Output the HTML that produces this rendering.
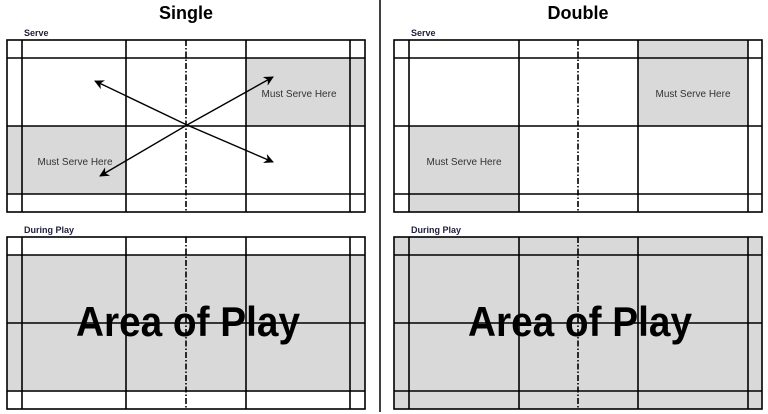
<!DOCTYPE html>
<html><head><meta charset="utf-8"><style>
html,body{margin:0;padding:0;background:#fff;}
svg{display:block;}
text{font-family:"Liberation Sans",sans-serif;}
</style></head><body>
<svg width="768" height="414" viewBox="0 0 768 414" xmlns="http://www.w3.org/2000/svg">
<defs>
<marker id="ah" viewBox="0 0 10 10" refX="9" refY="5" markerWidth="7" markerHeight="7" orient="auto"><path d="M0,0 L10,5 L0,10 L3,5 z" fill="#000"/></marker>
<g id="L" fill="none" stroke="#000" stroke-width="1.6">
<rect x="7" y="0" width="358" height="172"/>
<line x1="22" y1="0" x2="22" y2="172"/>
<line x1="350" y1="0" x2="350" y2="172"/>
<line x1="126" y1="0" x2="126" y2="172"/>
<line x1="246" y1="0" x2="246" y2="172"/>
<line x1="7" y1="18" x2="365" y2="18"/>
<line x1="7" y1="86" x2="365" y2="86"/>
<line x1="7" y1="154" x2="365" y2="154"/>
<line x1="186" y1="0" x2="186" y2="172" stroke-dasharray="6,2,1.5,2"/>
</g>
<g id="R" fill="none" stroke="#000" stroke-width="1.6">
<rect x="394" y="0" width="368" height="172"/>
<line x1="409" y1="0" x2="409" y2="172"/>
<line x1="748" y1="0" x2="748" y2="172"/>
<line x1="519" y1="0" x2="519" y2="172"/>
<line x1="638" y1="0" x2="638" y2="172"/>
<line x1="394" y1="18" x2="762" y2="18"/>
<line x1="394" y1="86" x2="762" y2="86"/>
<line x1="394" y1="154" x2="762" y2="154"/>
<line x1="578" y1="0" x2="578" y2="172" stroke-dasharray="6,2,1.5,2"/>
</g>
</defs>
<line x1="380" y1="0" x2="380" y2="412" stroke="#000" stroke-width="1.5"/>
<text x="186" y="19" font-size="18" font-weight="bold" text-anchor="middle">Single</text>
<text x="578" y="19" font-size="18" font-weight="bold" text-anchor="middle">Double</text>
<text x="24" y="36" font-size="9" font-weight="bold" fill="#1f1f3a">Serve</text>
<text x="411" y="36" font-size="9" font-weight="bold" fill="#1f1f3a">Serve</text>
<text x="24" y="233" font-size="9" font-weight="bold" fill="#1f1f3a">During Play</text>
<text x="411" y="233" font-size="9" font-weight="bold" fill="#1f1f3a">During Play</text>
<!-- single serve -->
<g transform="translate(0,40)">
<rect x="246" y="18" width="119" height="68" fill="#d9d9d9"/>
<rect x="7" y="86" width="119" height="68" fill="#d9d9d9"/>
<use href="#L"/>
</g>
<text x="299" y="97" font-size="10" text-anchor="middle" fill="#333">Must Serve Here</text>
<text x="75" y="165" font-size="10" text-anchor="middle" fill="#333">Must Serve Here</text>
<g stroke="#000" stroke-width="1.4" marker-end="url(#ah)">
<line x1="187" y1="125" x2="95" y2="81"/>
<line x1="187" y1="125" x2="100" y2="176"/>
<line x1="187" y1="125" x2="273" y2="77"/>
<line x1="187" y1="125" x2="273" y2="162"/>
</g>
<!-- double serve -->
<g transform="translate(0,40)">
<rect x="638" y="0" width="110" height="86" fill="#d9d9d9"/>
<rect x="409" y="86" width="110" height="86" fill="#d9d9d9"/>
<use href="#R"/>
</g>
<text x="693" y="97" font-size="10" text-anchor="middle" fill="#333">Must Serve Here</text>
<text x="464" y="165" font-size="10" text-anchor="middle" fill="#333">Must Serve Here</text>
<!-- single play -->
<g transform="translate(0,237)">
<rect x="7" y="18" width="358" height="137" fill="#d9d9d9"/>
<use href="#L"/>
</g>
<!-- double play -->
<g transform="translate(0,237)">
<rect x="394" y="0" width="368" height="172" fill="#d9d9d9"/>
<use href="#R"/>
</g>
<text x="188" y="336" font-size="42" font-weight="bold" text-anchor="middle" textLength="224" lengthAdjust="spacingAndGlyphs">Area of Play</text>
<text x="580" y="336" font-size="42" font-weight="bold" text-anchor="middle" textLength="224" lengthAdjust="spacingAndGlyphs">Area of Play</text>
</svg>
</body></html>
